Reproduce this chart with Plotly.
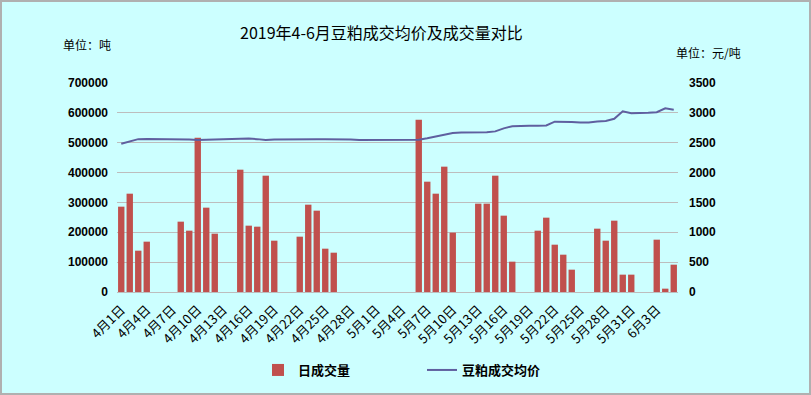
import datetime as dt
import plotly.graph_objects as go

# Categories: every calendar day from 1 Apr to 5 Jun 2019
start = dt.date(2019, 4, 1)
dates = [start + dt.timedelta(days=i) for i in range(66)]
categories = [f"{d.month}月{d.day}日" for d in dates]
tick_labels = categories[::3]

# Daily volume (tonnes); None = no trading that day
volume = {
    "4月1日": 285800, "4月2日": 329300, "4月3日": 138400, "4月4日": 168600,
    "4月8日": 235600, "4月9日": 205400, "4月10日": 516900, "4月11日": 282500, "4月12日": 195400,
    "4月15日": 409700, "4月16日": 222200, "4月17日": 218800, "4月18日": 389600, "4月19日": 171900,
    "4月22日": 185300, "4月23日": 292500, "4月24日": 272400, "4月25日": 145100, "4月26日": 131700,
    "5月6日": 577200, "5月7日": 369500, "5月8日": 329300, "5月9日": 419800, "5月10日": 198700,
    "5月13日": 295900, "5月14日": 295900, "5月15日": 389600, "5月16日": 255700, "5月17日": 101600,
    "5月20日": 205400, "5月21日": 249000, "5月22日": 158500, "5月23日": 125000, "5月24日": 74800,
    "5月27日": 212100, "5月28日": 171900, "5月29日": 238900, "5月30日": 58100, "5月31日": 58100,
    "6月3日": 175300, "6月4日": 11200, "6月5日": 91500,
}
volume_values = [volume.get(c) for c in categories]

# Average price (yuan/tonne), one per category
price_values = [
    2484, 2520, 2560, 2562, 2562, 2562, 2562, 2562, 2555, 2545,   # 4/1-4/10
    2550, 2550, 2555, 2555, 2565, 2570, 2560, 2545, 2555, 2558,   # 4/11-4/20
    2558, 2565, 2567, 2560, 2558, 2560, 2552, 2552, 2545, 2545,   # 4/21-4/30
    2546, 2547, 2548, 2549, 2550, 2551, 2575, 2600, 2630, 2663,   # 5/1-5/10
    2670, 2670, 2674, 2675, 2690, 2740, 2775, 2786, 2786, 2786,   # 5/11-5/20
    2790, 2852, 2852, 2848, 2838, 2840, 2855, 2865, 2900, 3026,   # 5/21-5/30
    2995, 2995, 3000, 3010, 3076, 3053,                           # 5/31-6/5
]

title_text = "2019年4-6月豆粕成交均价及成交量对比"
left_unit = "单位：吨"
right_unit = "单位：元/吨"

BG = "#CCFFFF"
BAR = "#C0504D"
LINE = "#5F5F9F"
GRID = "#BDBDBD"

fig = go.Figure()
fig.add_trace(go.Bar(
    x=categories, y=volume_values, name="日成交量",
    marker=dict(color=BAR, line=dict(width=0)), yaxis="y",
))
fig.add_trace(go.Scatter(
    x=categories, y=price_values, name="豆粕成交均价", mode="lines",
    line=dict(color=LINE, width=2), yaxis="y2",
))

num_font = dict(family="Liberation Sans", size=12, color="black", weight="bold")
L, R, T, B = 117, 133, 83, 103
W, H = 811, 395
PW, PH = W - L - R, H - T - B

fig.update_layout(
    width=W, height=H,
    margin=dict(l=L, r=R, t=T, b=B, autoexpand=False),
    paper_bgcolor=BG, plot_bgcolor=BG,
    bargap=0.25,
    showlegend=True,
    legend=dict(
        orientation="h", xref="container", yref="container",
        x=258 / W, xanchor="left",
        y=1 - 370 / H, yanchor="middle",
        font=dict(family="Noto Sans CJK SC", size=13, color="black", weight="bold"),
        bgcolor="rgba(0,0,0,0)", entrywidth=119, itemwidth=30,
    ),
    xaxis=dict(
        type="category", categoryorder="array", categoryarray=categories,
        tickmode="array", tickvals=tick_labels, ticktext=tick_labels,
        tickangle=-45, ticks="", showgrid=False, automargin=False,
        showline=True, linecolor=GRID, linewidth=1, ticklabelstandoff=4,
        tickfont=dict(family="Noto Sans CJK SC", size=13, color="black"),
    ),
    yaxis=dict(
        range=[0, 700000], dtick=100000, tickformat="d", automargin=False,
        showgrid=True, gridcolor=GRID, gridwidth=1, zeroline=False,
        tickfont=num_font, ticks="", ticklabelstandoff=8,
    ),
    yaxis2=dict(
        range=[0, 3500], dtick=500, overlaying="y", side="right", automargin=False,
        showgrid=False, zeroline=False, tickfont=num_font, ticks="", ticklabelstandoff=10,
    ),
    annotations=[
        dict(text=title_text, xref="paper", yref="paper",
             x=(381 - L) / PW, y=1 + (T - 32) / PH,
             xanchor="center", yanchor="middle",
             showarrow=False, font=dict(family="Noto Sans CJK SC", size=16, color="black")),
        dict(text=left_unit, xref="paper", yref="paper",
             x=(61 - L) / PW, y=1 + (T - 45) / PH,
             xanchor="left", yanchor="middle",
             showarrow=False, font=dict(family="Noto Sans CJK SC", size=12, color="black")),
        dict(text=right_unit, xref="paper", yref="paper",
             x=(674 - L) / PW, y=1 + (T - 52) / PH,
             xanchor="left", yanchor="middle",
             showarrow=False, font=dict(family="Noto Sans CJK SC", size=12, color="black")),
    ],
    shapes=[
        dict(type="rect", xref="paper", yref="paper",
             x0=(1 - L) / PW, x1=(W - 1 - L) / PW,
             y0=-(B - 1) / PH, y1=1 + (T - 1) / PH,
             line=dict(color="#B0B0B0", width=2), fillcolor="rgba(0,0,0,0)", layer="above"),
    ],
)

fig.write_html("out.html", config={"displayModeBar": False},
               post_script="document.body.style.margin='0';")
